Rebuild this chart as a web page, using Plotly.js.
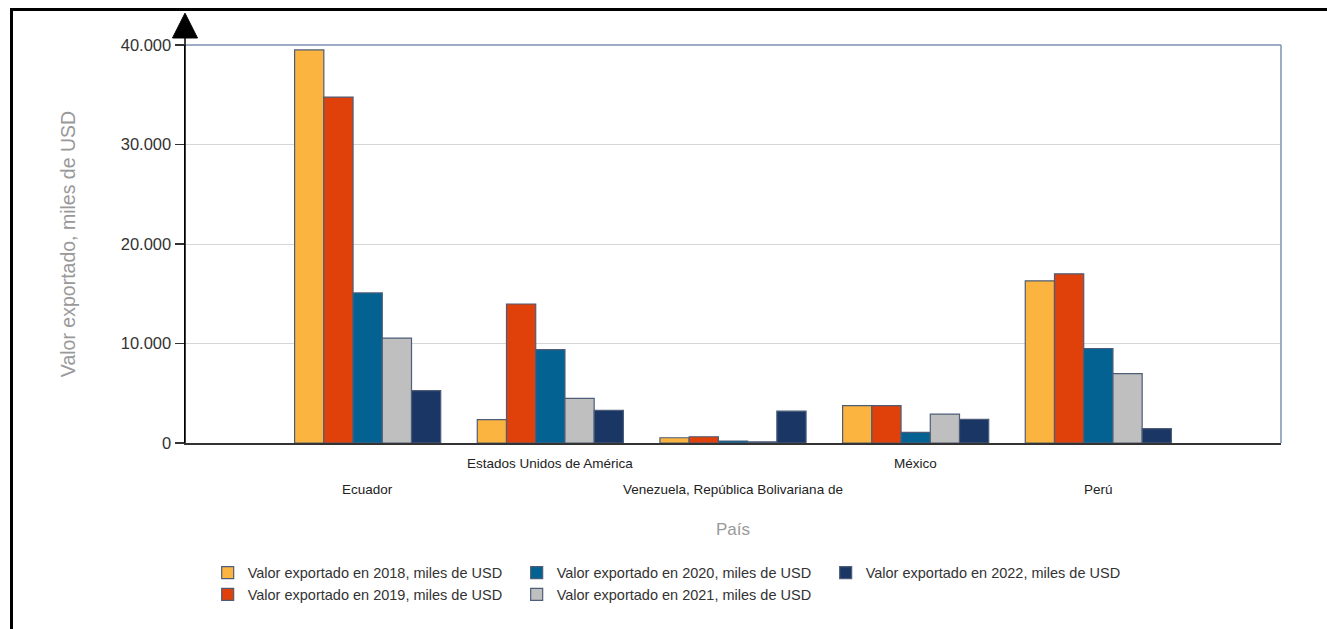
<!DOCTYPE html>
<html>
<head>
<meta charset="utf-8">
<script src="https://cdn.plot.ly/plotly-3.0.1.min.js"></script>
<style>
  html, body { margin: 0; padding: 0; background: #fff; }
  #wrap { position: relative; width: 1327px; height: 629px; }
  #chart { width: 1327px; height: 629px; }
  #frame { position: absolute; left: 10px; top: 8px; width: 1317px; height: 621px;
           border-top: 3px solid #000; border-left: 3px solid #000; pointer-events: none; box-sizing: border-box; }
</style>
</head>
<body>
<div id="wrap">
  <div id="chart"></div>
  <div id="frame"></div>
</div>
<script>
// ---- Data ----
const categories = ["Ecuador", "Estados Unidos de América", "Venezuela, República Bolivariana de", "México", "Perú"];
const seriesNames = [
  "Valor exportado en 2018, miles de USD",
  "Valor exportado en 2019, miles de USD",
  "Valor exportado en 2020, miles de USD",
  "Valor exportado en 2021, miles de USD",
  "Valor exportado en 2022, miles de USD"
];
const v2018 = [39500, 2340, 530, 3750, 16300];
const v2019 = [34770, 13970, 630, 3750, 17000];
const v2020 = [15080, 9380, 200, 1070, 9500];
const v2021 = [10550, 4480, 120, 2910, 6970];
const v2022 = [5260, 3280, 3200, 2370, 1440];
const yTickVals = [0, 10000, 20000, 30000, 40000];

// ---- Styles ----
const colors = ["#FBB440", "#E0400A", "#046293", "#BFBFBF", "#1A3664"];
const legendRanks = [1, 4, 2, 5, 3];
const allValues = [v2018, v2019, v2020, v2021, v2022];

const traces = allValues.map((vals, i) => ({
  type: "bar",
  x: categories,
  y: vals,
  name: seriesNames[i],
  legendrank: legendRanks[i],
  marker: { color: colors[i], line: { color: "#4d5d78", width: 1.2 } },
  hoverinfo: "x+y+name"
}));

// staggered category labels
const catAnnotations = categories.map((c, i) => ({
  x: c, xref: "x", y: 0, yref: "paper",
  yanchor: "top", xanchor: "center",
  yshift: (i % 2 === 1) ? -11 : -37,
  text: c, showarrow: false,
  font: { family: "Liberation Sans, Arial, sans-serif", size: 13.5, color: "#222" }
}));

const layout = {
  width: 1327, height: 629,
  margin: { l: 185, r: 46, t: 45, b: 186 },
  paper_bgcolor: "#fff", plot_bgcolor: "#fff",
  separators: ",.",
  barmode: "group", bargap: 0.2, bargroupgap: 0,
  showlegend: true,
  font: { family: "Liberation Sans, Arial, sans-serif", color: "#333" },
  xaxis: {
    type: "category",
    range: [-1, 5],
    showticklabels: false, ticks: "",
    showline: true, linecolor: "#333", linewidth: 1.5,
    showgrid: false, zeroline: false,
    title: { text: "País", font: { size: 17, color: "#999" }, standoff: 79 },
    automargin: false
  },
  yaxis: {
    range: [0, 40000],
    tickvals: yTickVals,
    tickformat: ",d",
    ticks: "outside", ticklen: 9, tickcolor: "#333", tickwidth: 1.5,
    tickfont: { size: 16.5, color: "#333" },
    showline: true, linecolor: "#000", linewidth: 1.5,
    gridcolor: "#d6d6d6", gridwidth: 1,
    zeroline: false,
    title: { text: "Valor exportado, miles de USD", font: { size: 19.5, color: "#999" }, standoff: 40 },
    automargin: false
  },
  legend: {
    orientation: "h",
    xref: "container", yref: "container",
    x: 0.1565, y: 0.115, xanchor: "left", yanchor: "top",
    traceorder: "normal",
    entrywidth: 264, entrywidthmode: "pixels",
    font: { size: 14.5, color: "#333" },
    bgcolor: "rgba(0,0,0,0)",
    tracegroupgap: 0
  },
  shapes: [
    // top and right plot border
    { type: "line", xref: "paper", yref: "paper", x0: 0, x1: 1, y0: 1, y1: 1, line: { color: "#7f92b0", width: 1.5 } },
    { type: "line", xref: "paper", yref: "paper", x0: 1, x1: 1, y0: 0, y1: 1, line: { color: "#7f92b0", width: 1.5 } },
    // y axis extension to arrow
    { type: "line", xref: "paper", yref: "paper", x0: 0, x1: 0, y0: 0, y1: 1.02, line: { color: "#000", width: 1.5 } },
    // arrow head
    { type: "path", xref: "paper", yref: "paper",
      path: "M -0.0114 1.0176 L 0.0114 1.0176 L 0 1.080 Z",
      fillcolor: "#000", line: { color: "#000", width: 1 } }
  ],
  annotations: catAnnotations
};

Plotly.newPlot("chart", traces, layout, { displayModeBar: false, staticPlot: true });
</script>
</body>
</html>
